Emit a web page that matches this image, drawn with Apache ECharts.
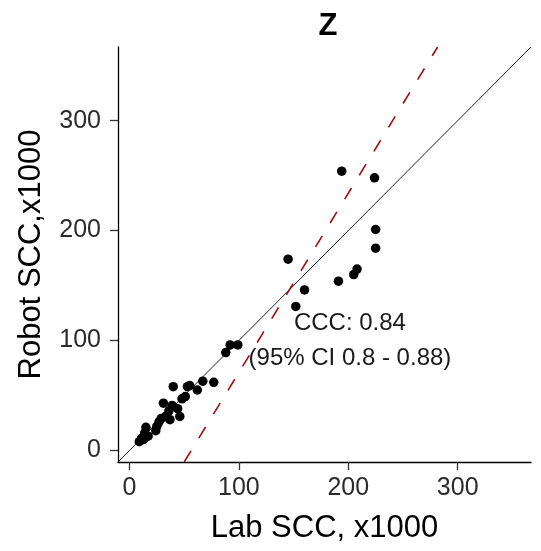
<!DOCTYPE html>
<html>
<head>
<meta charset="utf-8">
<script src="https://cdn.jsdelivr.net/npm/echarts@6/dist/echarts.min.js"></script>
<style>
html,body{margin:0;padding:0;background:#fff;}
#chart{width:541px;height:551px;}
</style>
</head>
<body>
<div id="chart"></div>
<script>
// Lab SCC (x1000) vs Robot SCC (x1000)
var labSCC   = [9, 11, 13, 14, 15, 17, 24, 25, 27, 29, 31, 33, 36, 37, 39, 40, 44, 46, 48, 51, 53, 55, 62, 67, 77, 88, 92, 99,
                145, 152, 160, 191, 205, 208, 194, 224, 225, 225];
var robotSCC = [8, 11, 10, 16, 21, 13, 18, 22, 26, 29, 43, 31, 36, 28, 41, 58, 38, 31, 47, 49, 58, 59, 55, 63, 62, 89, 96, 96,
                174, 131, 146, 154, 160, 165, 254, 248, 201, 184];
// reference lines (endpoints in data units, clipped to panel)
var identityLineX = [-10.5, 367];
var identityLineY = [-10.5, 367];
var fitLineX = [50, 281.6];
var fitLineY = [-10.5, 367];
var tickValues = [0, 100, 200, 300];
var axisMin = -10.5, axisMax = 367;
var annotationText = ['CCC: 0.84', '(95% CI 0.8 - 0.88)'];
var annotationPos = [201.5, 99.5];

var FONT = '"Liberation Sans", Arial, sans-serif';

var points = labSCC.map(function (x, i) { return [x, robotSCC[i]]; });
var idLine = identityLineX.map(function (x, i) { return [x, identityLineY[i]]; });
var fLine = fitLineX.map(function (x, i) { return [x, fitLineY[i]]; });

var chart = echarts.init(document.getElementById('chart'), null, {renderer: 'canvas'});

function axisCommon(name) {
  return {
    type: 'value',
    min: axisMin,
    max: axisMax,
    name: name,
    nameLocation: 'middle',
    nameTextStyle: {fontFamily: FONT, fontSize: 31, color: '#000'},
    splitLine: {show: false},
    axisLine: {show: true, onZero: false, lineStyle: {color: '#000', width: 1.3}},
    axisTick: {show: true, length: 8, customValues: tickValues, lineStyle: {color: '#333', width: 1.3}},
    axisLabel: {show: true, customValues: tickValues, fontFamily: FONT, fontSize: 25, color: '#2b2b2b', margin: 17}
  };
}

var xAx = axisCommon('Lab SCC, x1000');
xAx.nameGap = 51;
xAx.axisLabel.margin = 14;
var yAx = axisCommon('Robot SCC,x1000');
yAx.nameGap = 71;

chart.setOption({
  animation: false,
  backgroundColor: '#fff',
  title: {
    text: 'Z',
    left: 323,
    top: 6,
    textAlign: 'center',
    textStyle: {fontFamily: FONT, fontSize: 31, fontWeight: 'bold', color: '#000'}
  },
  grid: {left: 118, right: 10, top: 47, bottom: 89, containLabel: false},
  xAxis: xAx,
  yAxis: yAx,
  series: [
    {
      type: 'line',
      data: idLine,
      symbol: 'none',
      clip: true,
      lineStyle: {color: '#222', width: 1},
      silent: true,
      z: 2
    },
    {
      type: 'line',
      data: fLine,
      symbol: 'none',
      clip: true,
      lineStyle: {color: '#9b1010', width: 1.6, type: [13, 15]},
      silent: true,
      z: 2
    },
    {
      type: 'scatter',
      data: points,
      symbol: 'circle',
      symbolSize: 9.5,
      itemStyle: {color: '#000', opacity: 1},
      z: 3
    }
  ]
});

var p = chart.convertToPixel({gridIndex: 0}, annotationPos);
chart.setOption({
  graphic: [{
    type: 'text',
    x: p[0],
    y: p[1],
    z: 10,
    style: {
      text: annotationText.join('\n'),
      fontFamily: FONT,
      fontSize: 24,
      lineHeight: 35,
      fill: '#1a1a1a',
      align: 'center',
      verticalAlign: 'middle'
    }
  }]
});
</script>
</body>
</html>
